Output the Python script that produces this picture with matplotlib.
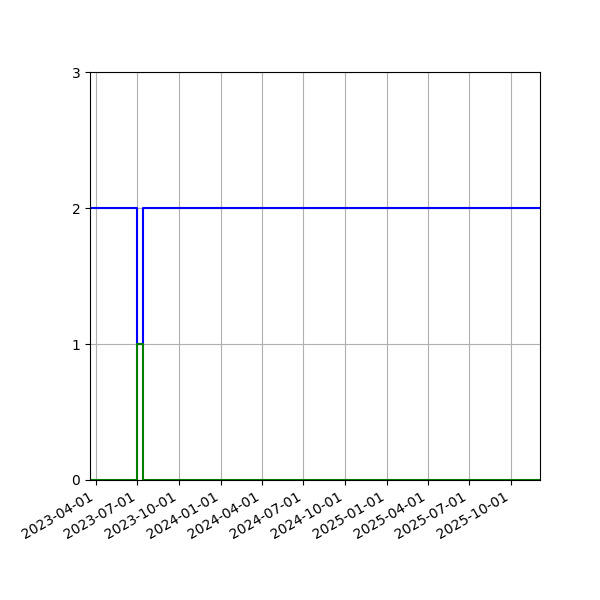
import pandas as pd
import matplotlib.pyplot as plt
import matplotlib.dates as mdates

# dados
datas = pd.to_datetime(['2023-03-19', '2023-06-30', '2023-07-14', '2025-12-04'])
serie_azul = [2, 1, 2, 2]
serie_verde = [0, 1, 0, 0]

fig, ax = plt.subplots(figsize=(6, 6), dpi=100)
ax.step(datas, serie_azul, where='post', color='blue')
ax.step(datas, serie_verde, where='post', color='green')

ax.set_xlim(datas[0], datas[-1])
ax.set_ylim(0, 3)
ax.set_yticks([0, 1, 2, 3])
ax.xaxis.set_major_locator(mdates.MonthLocator(bymonth=[1, 4, 7, 10]))
ax.xaxis.set_major_formatter(mdates.DateFormatter('%Y-%m-%d'))
ax.grid(True)
fig.autofmt_xdate()
plt.subplots_adjust(left=0.15, right=0.9, bottom=0.2, top=0.88)
plt.savefig('out.png')
